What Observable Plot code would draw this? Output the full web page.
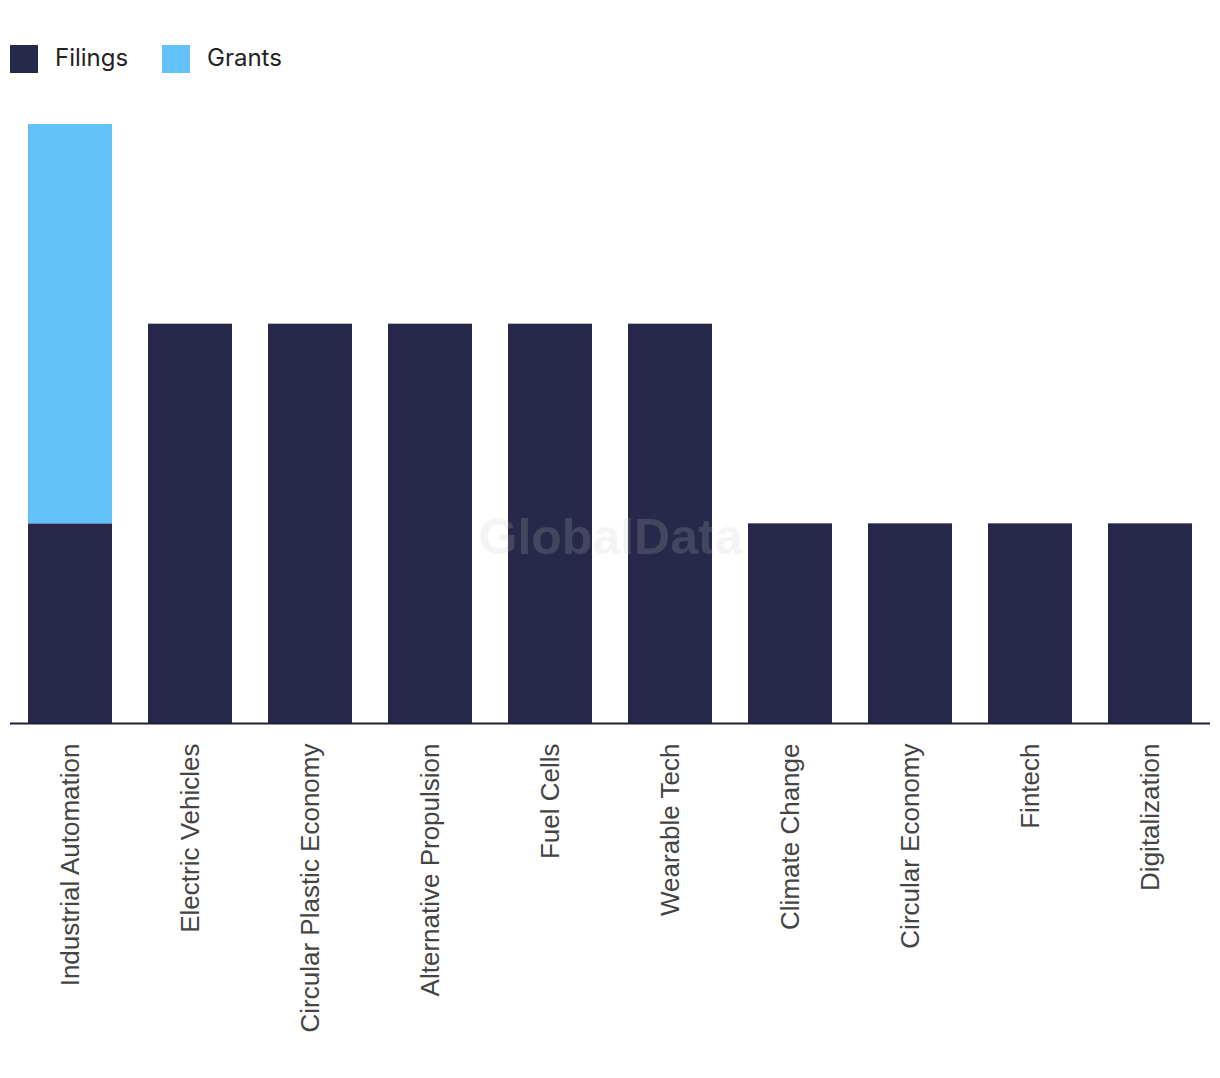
<!DOCTYPE html>
<html>
<head>
<meta charset="utf-8">
<script src="https://cdn.jsdelivr.net/npm/d3@7"></script>
<script src="https://cdn.jsdelivr.net/npm/@observablehq/plot@0.6"></script>
<style>
  html, body { margin: 0; padding: 0; background: #fff; }
  #wrap { width: 1220px; height: 1078px; position: relative; }
  #legend { height: 100px; position: relative; font-family: Inter, "Open Sans", sans-serif; font-size: 24px; color: #222; }
  .item { position: absolute; top: 45px; display: flex; align-items: center; height: 28px; }
  .sw { width: 28px; height: 28px; display: inline-block; margin-right: 17px; }
  .lbl { position: relative; top: -2px; }
</style>
</head>
<body>
<div id="wrap">
  <div id="legend"></div>
  <div id="chart"></div>
</div>
<script>
const categories = ["Industrial Automation", "Electric Vehicles", "Circular Plastic Economy", "Alternative Propulsion", "Fuel Cells", "Wearable Tech", "Climate Change", "Circular Economy", "Fintech", "Digitalization"];
const filings = [1, 2, 2, 2, 2, 2, 1, 1, 1, 1];
const grants  = [2, 0, 0, 0, 0, 0, 0, 0, 0, 0];
const seriesNames = ["Filings", "Grants"];
const seriesColors = ["#27284a", "#63c1f9"];
const watermark = ["GlobalData"];

const data = [];
categories.forEach((c, i) => {
  data.push({category: c, series: "Filings", value: filings[i]});
  data.push({category: c, series: "Grants", value: grants[i]});
});

// Legend
const legend = document.getElementById("legend");
const lefts = [10, 162];
seriesNames.forEach((s, i) => {
  const d = document.createElement("div");
  d.className = "item";
  d.style.left = lefts[i] + "px";
  d.innerHTML = `<span class="sw" style="background:${seriesColors[i]}"></span><span class="lbl">${s}</span>`;
  legend.appendChild(d);
});

const chart = Plot.plot({
  width: 1220,
  height: 978,
  marginLeft: 10,
  marginRight: 10,
  marginTop: 24,
  marginBottom: 355,
  style: {fontFamily: '"Liberation Sans", Arial, sans-serif', fontSize: "26px", color: "#444", background: "#fff"},
  x: {domain: categories, paddingInner: 0.3, paddingOuter: 0.15, label: null},
  y: {domain: [0, 3], axis: null},
  color: {domain: seriesNames, range: seriesColors},
  marks: [
    Plot.barY(data, {x: "category", y: "value", fill: "series", order: seriesNames}),
    Plot.ruleY([0], {stroke: "#1e1f38", strokeWidth: 2}),
    Plot.axisX({tickRotate: -90, tickSize: 0, tickPadding: 20, label: null, fontSize: 26, fill: "#444"}),
    Plot.text(watermark, {x: null, y: null, frameAnchor: "middle", dy: 114, text: d => d, fontSize: 50, fontWeight: "bold", fill: "#c5c5c5", fillOpacity: 0.19, fontFamily: '"Liberation Sans", Arial, sans-serif'})
  ]
});
document.getElementById("chart").appendChild(chart);
</script>
</body>
</html>
